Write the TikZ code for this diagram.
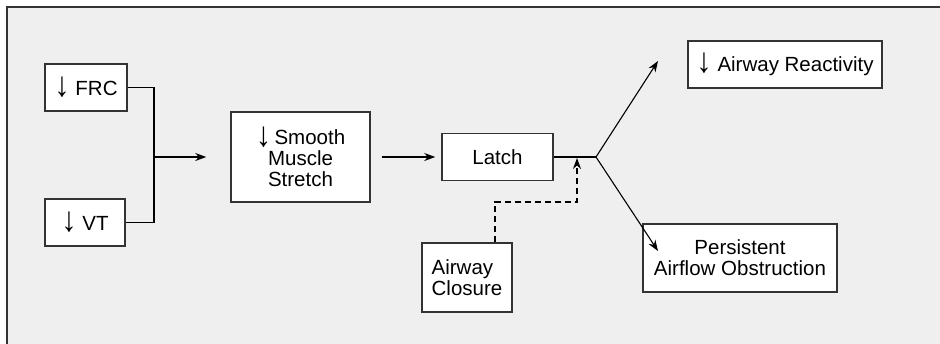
\documentclass[tikz,border=0pt]{standalone}
\usepackage{fontspec}
\setmainfont{Liberation Sans}
\usetikzlibrary{arrows.meta,calc}
\definecolor{bgray}{HTML}{EFEFEF}
\definecolor{edge}{HTML}{333333}
\newcommand{\dnarr}{\raisebox{-1.5pt}{\scalebox{1.5}[1.7]{↓}}}
\tikzset{
  blk/.style={draw=edge,fill=white,line width=1.5pt,inner sep=0pt,align=center,
    font=\fontsize{20.5}{21}\selectfont},
  conn/.style={line width=1.1pt,black},
  arr/.style={conn,-{Stealth[length=11pt,width=8pt]}},
}
\begin{document}
\begin{tikzpicture}[x=1pt,y=-1pt]
\useasboundingbox (0,0) rectangle (940,343);
\draw[draw=edge,fill=bgray,line width=2pt] (7,7) rectangle (960,370);
\node[blk,minimum width=82pt,minimum height=47pt] (frc) at (86,87.5) {\dnarr\ FRC};
\node[blk,minimum width=80pt,minimum height=47pt] (vt) at (85,222.5) {\dnarr\ VT};
\node[blk,minimum width=139pt,minimum height=90pt] (smooth) at (300.5,157) {\dnarr\,Smooth\\Muscle\\Stretch};
\node[blk,minimum width=111pt,minimum height=47pt] (latch) at (497.5,157) {Latch};
\node[blk,minimum width=90pt,minimum height=69pt,align=left] (closure) at (467,277.5) {Airway\\Closure};
\node[blk,minimum width=194pt,minimum height=47pt] (react) at (785,64.5) {\dnarr\ Airway Reactivity};
\node[blk,minimum width=194pt,minimum height=68pt] (pers) at (740,258) {Persistent\\Airflow Obstruction};
\coordinate (m) at (154,157);
\coordinate (j) at (596,157);
\coordinate (up) at (658,61);
\coordinate (dn) at (658,251);
\coordinate (dk) at (577,202);
\draw[conn] (frc.east) -| (m) |- (vt.east);
\draw[arr] (m) -- ($(smooth.west)+(-24,0)$);
\draw[arr] ($(smooth.east)+(11,0)$) -- ($(latch.west)+(-6,0)$);
\draw[conn] (latch.east) -- (j);
\draw[arr] (j) -- (up);
\draw[arr] (j) -- (dn);
\draw[conn,dashed,dash pattern=on 6pt off 4pt,-{Stealth[length=11pt,width=8pt]}] (closure.north -| 495,0) -- (495,202) -- (dk) -- (577,158);
\end{tikzpicture}
\end{document}
